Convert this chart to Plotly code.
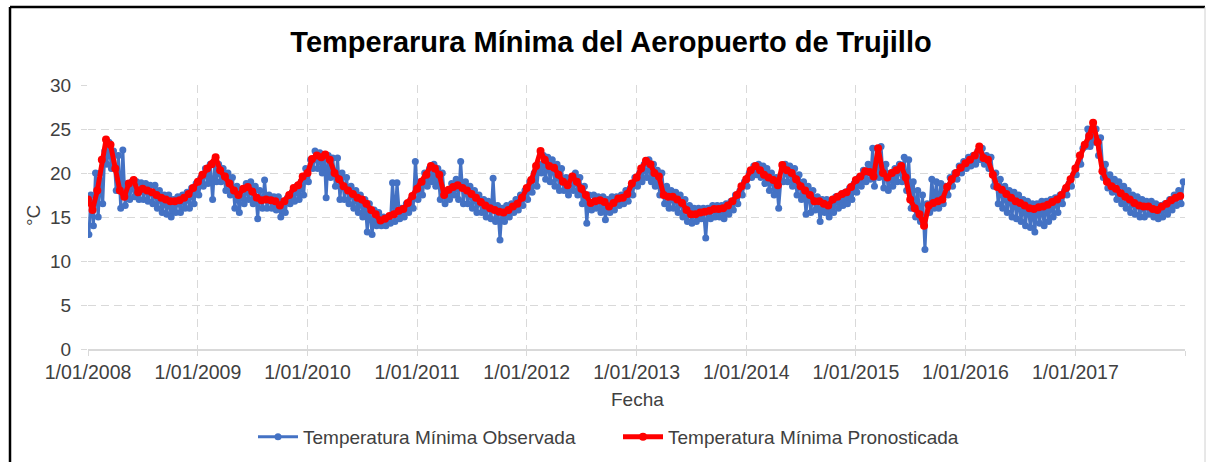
import plotly.graph_objects as go
import pandas as pd

# ---------------- data ----------------
YEARS = list(range(2008, 2018))
# semi-monthly slots: day 1 and day 16 of every month
SLOT_DAYS = [1, 16]

# Temperatura Mínima Pronosticada (red), 24 values per year
pron_2008 = [17.0, 15.8, 18.0, 21.5, 23.8, 23.2, 20.5, 18.0, 17.3, 18.8, 19.2, 17.8, 18.2, 18.0, 17.8, 17.5, 17.2, 17.0, 16.8, 16.8, 16.9, 17.2, 17.6, 18.3]
pron_2009 = [19.0, 19.8, 20.5, 21.0, 21.8, 20.3, 19.6, 18.8, 18.0, 17.5, 18.2, 18.4, 17.9, 17.2, 16.9, 17.0, 16.9, 16.8, 16.3, 16.8, 17.5, 18.3, 18.6, 19.6]
pron_2010 = [20.0, 21.6, 22.0, 21.8, 22.1, 21.5, 20.0, 19.3, 18.5, 18.0, 17.6, 17.2, 17.0, 16.5, 15.8, 15.3, 14.6, 14.8, 15.1, 15.3, 15.7, 15.9, 16.6, 17.4]
pron_2011 = [18.2, 19.0, 19.8, 20.8, 20.5, 19.8, 17.5, 18.1, 18.4, 18.6, 18.3, 18.0, 17.6, 17.2, 16.7, 16.3, 16.0, 15.8, 15.6, 15.5, 15.8, 16.2, 16.5, 17.2]
pron_2012 = [18.3, 19.2, 20.8, 22.5, 21.5, 20.8, 20.6, 19.8, 19.0, 18.6, 19.6, 19.0, 18.2, 17.5, 16.6, 16.8, 16.9, 16.7, 16.2, 16.6, 17.1, 17.2, 17.6, 18.8]
pron_2013 = [19.5, 20.5, 21.4, 21.0, 20.0, 19.6, 17.5, 17.3, 17.3, 17.0, 16.6, 15.8, 15.3, 15.3, 15.5, 15.6, 15.7, 15.9, 15.9, 16.0, 16.3, 16.8, 17.5, 18.5]
pron_2014 = [19.3, 20.3, 20.8, 20.3, 19.8, 19.5, 19.2, 18.6, 20.9, 20.3, 20.0, 19.3, 18.5, 18.0, 17.5, 16.8, 16.8, 16.5, 16.3, 17.0, 17.3, 17.6, 17.8, 18.4]
pron_2015 = [19.2, 19.6, 20.2, 20.1, 19.6, 22.8, 20.0, 19.5, 20.0, 20.3, 20.8, 19.5, 17.0, 16.0, 15.3, 14.0, 16.3, 16.6, 16.8, 17.0, 18.4, 19.3, 20.0, 20.6]
pron_2016 = [21.1, 21.5, 22.0, 23.0, 21.7, 21.5, 19.8, 18.4, 18.1, 17.6, 17.2, 16.8, 16.6, 16.3, 16.0, 15.9, 16.1, 16.2, 16.4, 16.7, 17.0, 17.5, 18.3, 19.3]
pron_2017 = [20.5, 22.0, 23.2, 24.2, 25.7, 23.5, 20.2, 19.0, 18.5, 18.2, 17.7, 17.3, 17.0, 16.6, 16.3, 16.2, 16.2, 15.9, 15.8, 16.2, 16.5, 16.9, 17.2, 17.4]

# Temperatura Mínima Observada (blue): low and high readings per semi-monthly slot
obs_low_2008 = [13.0, 14.0, 15.0, 16.5, 21.0, 20.5, 18.0, 16.0, 16.3, 17.0, 17.3, 17.0, 17.0, 16.8, 16.5, 16.0, 15.5, 15.3, 15.0, 15.5, 15.5, 16.0, 16.0, 16.5]
obs_high_2008 = [17.5, 20.0, 20.0, 22.5, 23.5, 22.5, 22.0, 22.6, 18.8, 19.0, 19.0, 18.9, 18.8, 18.6, 18.6, 18.0, 17.5, 17.5, 17.0, 17.3, 17.5, 17.8, 18.3, 18.8]
obs_low_2009 = [17.5, 18.5, 18.8, 17.0, 19.0, 19.0, 18.0, 17.5, 16.0, 15.5, 16.5, 17.0, 16.5, 14.8, 16.0, 16.0, 16.0, 15.8, 15.0, 15.5, 16.5, 16.8, 17.0, 17.5]
obs_high_2009 = [19.5, 20.5, 21.0, 21.0, 21.0, 20.5, 20.0, 19.5, 18.5, 18.0, 18.8, 19.0, 18.5, 18.0, 19.2, 17.5, 17.3, 17.3, 16.8, 17.2, 17.8, 18.5, 19.0, 20.5]
obs_low_2010 = [19.0, 20.5, 20.5, 20.0, 17.2, 19.5, 18.5, 17.0, 17.0, 16.5, 16.0, 15.5, 15.0, 13.3, 13.0, 14.0, 14.0, 14.0, 14.3, 14.5, 14.8, 15.0, 15.5, 16.0]
obs_high_2010 = [21.5, 22.5, 22.3, 22.0, 22.0, 21.7, 21.7, 20.0, 19.5, 18.5, 18.0, 17.5, 17.0, 16.5, 15.8, 15.5, 15.0, 15.0, 18.9, 18.9, 16.0, 16.5, 17.0, 21.3]
obs_low_2011 = [17.0, 17.5, 18.5, 19.0, 18.5, 17.0, 16.5, 17.0, 17.5, 17.0, 16.5, 16.5, 16.0, 15.5, 15.5, 15.0, 14.8, 14.5, 12.4, 14.5, 15.0, 15.5, 15.8, 16.3]
obs_high_2011 = [19.0, 20.0, 20.5, 21.0, 20.5, 20.0, 18.0, 18.8, 19.3, 21.3, 19.0, 18.5, 18.0, 17.5, 17.0, 16.8, 19.4, 16.3, 16.0, 16.3, 16.5, 17.0, 17.5, 18.0]
obs_low_2012 = [17.0, 17.8, 18.5, 20.0, 19.3, 19.0, 18.5, 18.0, 18.0, 17.5, 18.0, 17.5, 16.5, 14.3, 15.8, 16.0, 15.5, 14.7, 15.5, 15.8, 16.3, 16.5, 16.8, 17.5]
obs_high_2012 = [19.0, 20.0, 21.0, 22.0, 21.8, 21.5, 21.0, 20.5, 19.5, 19.5, 20.0, 19.5, 18.5, 17.5, 17.5, 17.3, 17.3, 17.0, 17.3, 17.3, 17.5, 18.0, 18.3, 19.5]
obs_low_2013 = [18.5, 19.0, 19.5, 19.0, 18.5, 17.5, 16.5, 16.0, 16.0, 15.5, 15.0, 14.5, 14.3, 14.5, 14.8, 12.6, 14.8, 15.0, 15.0, 14.8, 15.3, 15.8, 16.5, 17.5]
obs_high_2013 = [20.0, 21.0, 21.5, 21.0, 20.3, 20.0, 18.5, 18.0, 17.8, 17.5, 17.0, 16.3, 16.0, 16.0, 16.0, 16.0, 16.3, 16.3, 16.3, 16.5, 16.8, 17.5, 18.0, 19.0]
obs_low_2014 = [18.5, 19.5, 19.8, 19.5, 18.8, 18.0, 17.5, 16.0, 19.0, 19.0, 18.5, 17.5, 17.0, 15.3, 15.5, 15.8, 14.5, 15.5, 15.0, 15.5, 16.0, 16.3, 16.5, 17.0]
obs_high_2014 = [20.0, 20.8, 21.0, 20.8, 20.5, 20.0, 19.5, 19.0, 21.0, 20.8, 20.5, 19.8, 19.0, 18.5, 18.0, 17.3, 17.0, 17.0, 16.8, 17.3, 17.5, 17.8, 18.3, 18.8]
obs_low_2015 = [17.8, 18.5, 19.0, 19.3, 18.5, 19.5, 18.3, 18.0, 18.5, 19.0, 19.0, 18.0, 16.0, 15.0, 14.5, 11.3, 15.5, 16.0, 16.0, 16.5, 17.5, 18.5, 19.3, 20.0]
obs_high_2015 = [19.5, 20.3, 21.0, 22.8, 21.0, 23.0, 21.0, 20.0, 20.5, 21.0, 21.8, 21.5, 19.0, 18.0, 17.5, 16.5, 19.3, 19.0, 18.8, 18.5, 19.5, 20.0, 20.8, 21.3]
obs_low_2016 = [20.5, 20.8, 21.0, 21.5, 21.0, 20.5, 18.5, 16.5, 16.0, 15.5, 15.0, 14.8, 14.5, 14.0, 13.8, 13.3, 14.3, 14.0, 14.5, 15.0, 15.5, 16.5, 17.5, 18.5]
obs_high_2016 = [21.8, 22.0, 22.5, 22.8, 22.0, 21.8, 20.0, 19.3, 18.5, 18.0, 17.8, 17.5, 17.0, 16.8, 16.5, 16.5, 16.8, 16.8, 17.0, 17.2, 17.5, 18.0, 18.8, 19.8]
obs_low_2017 = [19.8, 21.0, 23.0, 23.0, 23.5, 22.0, 19.5, 18.3, 17.8, 17.0, 16.5, 16.0, 15.5, 15.3, 15.0, 15.0, 15.3, 15.0, 14.8, 15.0, 15.3, 15.8, 16.3, 16.5]
obs_high_2017 = [21.0, 22.8, 25.0, 25.0, 25.0, 24.0, 21.0, 19.8, 19.3, 19.0, 18.5, 18.0, 17.5, 17.3, 17.0, 16.8, 16.8, 16.5, 16.3, 16.5, 17.0, 17.5, 18.0, 19.0]

X_TICK_YEARS = [2008, 2009, 2010, 2011, 2012, 2013, 2014, 2015, 2016, 2017, 2018]
X_TICK_TEXT = ["1/01/2008", "1/01/2009", "1/01/2010", "1/01/2011", "1/01/2012",
               "1/01/2013", "1/01/2014", "1/01/2015", "1/01/2016", "1/01/2017", ""]
Y_TICKS = [0, 5, 10, 15, 20, 25, 30]

TITLE = "Temperarura Mínima del Aeropuerto de Trujillo"
NAME_OBS = "Temperatura Mínima Observada"
NAME_PRON = "Temperatura Mínima Pronosticada"

# ---------------- assemble series ----------------
pron = [pron_2008, pron_2009, pron_2010, pron_2011, pron_2012,
        pron_2013, pron_2014, pron_2015, pron_2016, pron_2017]
obs_low = [obs_low_2008, obs_low_2009, obs_low_2010, obs_low_2011, obs_low_2012,
           obs_low_2013, obs_low_2014, obs_low_2015, obs_low_2016, obs_low_2017]
obs_high = [obs_high_2008, obs_high_2009, obs_high_2010, obs_high_2011, obs_high_2012,
            obs_high_2013, obs_high_2014, obs_high_2015, obs_high_2016, obs_high_2017]

slot_dates = [pd.Timestamp(y, m, d) for y in YEARS for m in range(1, 13) for d in SLOT_DAYS]
pron_y = [v for yr in pron for v in yr]
lo_all = [v for yr in obs_low for v in yr]
hi_all = [v for yr in obs_high for v in yr]

obs_x, obs_y = [], []
for dt, lo, hi in zip(slot_dates, lo_all, hi_all):
    obs_x += [dt + pd.Timedelta(days=3), dt + pd.Timedelta(days=10)]
    obs_y += [lo, hi]

FONT = "Liberation Sans, Arial, sans-serif"
GRID = "#d9d9d9"
TXT = "#404040"

# plot-area geometry in pixels (page coordinates)
W, H = 1207, 462
PL, PR, PT, PB = 88, 1185, 85, 349
PW, PH = PR - PL, PB - PT


def px_x(x):
    return (x - PL) / PW


def px_y(y):
    return (PB - y) / PH


fig = go.Figure()
fig.add_trace(go.Scatter(
    x=obs_x, y=obs_y, name=NAME_OBS, mode="lines+markers",
    line=dict(color="#4472C4", width=3),
    marker=dict(color="#4472C4", size=7),
))
fig.add_trace(go.Scatter(
    x=slot_dates, y=pron_y, name=NAME_PRON, mode="lines+markers",
    line=dict(color="#FF0000", width=5),
    marker=dict(color="#FF0000", size=8),
))

fig.update_layout(
    width=W, height=H,
    margin=dict(l=PL, r=W - PR, t=PT, b=H - PB),
    paper_bgcolor="white", plot_bgcolor="white",
    font=dict(family=FONT, size=18, color=TXT),
    title=dict(text="<b>" + TITLE + "</b>", x=611 / W, xanchor="center",
               y=1 - 42 / H, yanchor="middle",
               font=dict(family=FONT, size=29, color="black")),
    showlegend=True,
    legend=dict(orientation="h", xref="container", yref="container",
                x=253 / W, xanchor="left", y=1 - 437 / H, yanchor="middle",
                font=dict(size=19, color=TXT), itemwidth=40,
                entrywidth=310, entrywidthmode="pixels",
                bgcolor="rgba(0,0,0,0)"),
    xaxis=dict(
        type="date", range=[pd.Timestamp(2008, 1, 1), pd.Timestamp(2018, 1, 1)],
        tickmode="array",
        tickvals=[pd.Timestamp(y, 1, 1) for y in X_TICK_YEARS],
        ticktext=X_TICK_TEXT,
        showgrid=True, gridcolor=GRID, gridwidth=1.3, griddash="8px,5px",
        showline=True, linecolor=GRID, linewidth=1.5,
        ticks="outside", ticklen=5, tickcolor=GRID, tickwidth=1.3,
        tickfont=dict(size=19.5, color=TXT), zeroline=False,
    ),
    yaxis=dict(
        range=[0, 30], tickmode="array", tickvals=Y_TICKS,
        showgrid=True, gridcolor=GRID, gridwidth=1.3, griddash="8px,5px",
        showline=False, zeroline=False,
        ticks="outside", ticklen=6, tickcolor=GRID, tickwidth=1.3,
        tickfont=dict(size=19, color=TXT), ticklabelstandoff=6,
    ),
    annotations=[
        dict(text="Fecha", xref="paper", yref="paper", x=px_x(637), y=px_y(399),
             xanchor="center", yanchor="middle", showarrow=False,
             font=dict(size=19, color=TXT)),
        dict(text="°C", xref="paper", yref="paper", x=px_x(33), y=px_y(215),
             xanchor="center", yanchor="middle", showarrow=False, textangle=-90,
             font=dict(size=19, color=TXT)),
    ],
    shapes=[
        dict(type="line", xref="paper", yref="paper", x0=px_x(10), x1=px_x(1205),
             y0=px_y(7), y1=px_y(7), line=dict(color="black", width=2.5)),
        dict(type="line", xref="paper", yref="paper", x0=px_x(10), x1=px_x(10),
             y0=px_y(7), y1=px_y(470), line=dict(color="black", width=2.5)),
        dict(type="line", xref="paper", yref="paper", x0=px_x(1205), x1=px_x(1205),
             y0=px_y(7), y1=px_y(470), line=dict(color="#d0d0d0", width=1)),
    ],
)

fig.write_html("out.html", config={"displayModeBar": False},
               post_script="document.body.style.margin='0';document.body.style.overflow='hidden';")
